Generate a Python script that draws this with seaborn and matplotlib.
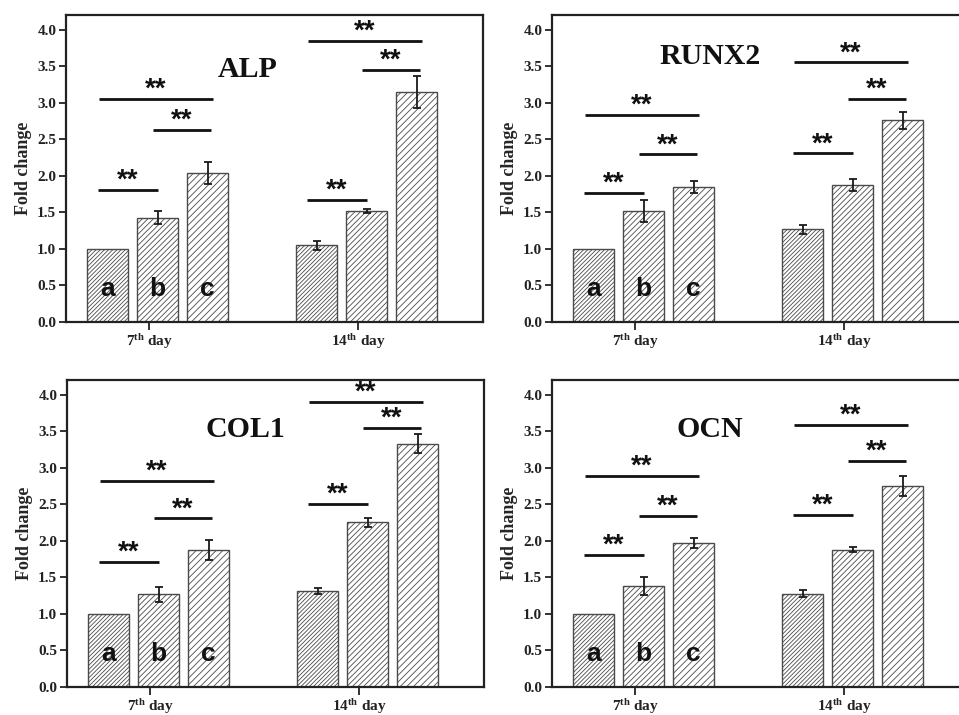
import numpy as np
import pandas as pd
import matplotlib
matplotlib.use("Agg")
import matplotlib.pyplot as plt
import seaborn as sns

# ---------------- data ----------------
days = ["7th", "14th"]
day_labels = [r"$\mathbf{7^{th}}$ day", r"$\mathbf{14^{th}}$ day"]
groups = ["a", "b", "c"]
genes = ["ALP", "RUNX2", "COL1", "OCN"]

# values[gene][group] = [7th, 14th]
alp_vals = {"a": [1.00, 1.05], "b": [1.43, 1.52], "c": [2.04, 3.15]}
alp_errs = {"a": [0.00, 0.06], "b": [0.09, 0.03], "c": [0.15, 0.22]}
runx2_vals = {"a": [1.00, 1.27], "b": [1.52, 1.88], "c": [1.85, 2.76]}
runx2_errs = {"a": [0.00, 0.065], "b": [0.155, 0.085], "c": [0.085, 0.12]}
col1_vals = {"a": [1.00, 1.315], "b": [1.27, 2.255], "c": [1.88, 3.33]}
col1_errs = {"a": [0.00, 0.04], "b": [0.10, 0.06], "c": [0.14, 0.13]}
ocn_vals = {"a": [1.00, 1.28], "b": [1.385, 1.88], "c": [1.975, 2.75]}
ocn_errs = {"a": [0.00, 0.05], "b": [0.125, 0.035], "c": [0.065, 0.135]}

# significance brackets: (day index, group i, group j, line height)
alp_sig = [(0, 0, 1, 1.81), (0, 1, 2, 2.63), (0, 0, 2, 3.06),
           (1, 0, 1, 1.67), (1, 1, 2, 3.45), (1, 0, 2, 3.85)]
runx2_sig = [(0, 0, 1, 1.77), (0, 1, 2, 2.295), (0, 0, 2, 2.84),
             (1, 0, 1, 2.31), (1, 1, 2, 3.055), (1, 0, 2, 3.555)]
col1_sig = [(0, 0, 1, 1.71), (0, 1, 2, 2.31), (0, 0, 2, 2.82),
            (1, 0, 1, 2.51), (1, 1, 2, 3.55), (1, 0, 2, 3.91)]
ocn_sig = [(0, 0, 1, 1.81), (0, 1, 2, 2.34), (0, 0, 2, 2.89),
           (1, 0, 1, 2.355), (1, 1, 2, 3.10), (1, 0, 2, 3.595)]

yticks = [0.0, 0.5, 1.0, 1.5, 2.0, 2.5, 3.0, 3.5, 4.0]

panels = [
    ("ALP", alp_vals, alp_errs, alp_sig),
    ("RUNX2", runx2_vals, runx2_errs, runx2_sig),
    ("COL1", col1_vals, col1_errs, col1_sig),
    ("OCN", ocn_vals, ocn_errs, ocn_sig),
]

# ---------------- layout / style ----------------
W, H = 959, 715
axes_px = {  # left, top, width, height in pixels
    "ALP": (66, 15, 417, 307),
    "RUNX2": (552, 15, 417, 307),
    "COL1": (67, 380, 417, 307),
    "OCN": (552, 380, 417, 307),
}
title_pos = {"ALP": (0.436, 3.35), "RUNX2": (0.378, 3.54),
             "COL1": (0.427, 3.42), "OCN": (0.378, 3.42)}
hatches = ["/" * 8, "/" * 6, "/" * 5]
bracket_ext = {(0, 1): (-0.20, 0.00), (1, 2): (-0.10, 0.07), (0, 2): (-0.17, 0.10)}
XLIM = (-0.438, -0.438 + 417 / 209)
EDGE = "#4a4a4a"

sns.set_style("ticks")
plt.rcParams["font.family"] = ["Liberation Serif", "DejaVu Serif"]
plt.rcParams["font.weight"] = "bold"
plt.rcParams["mathtext.fontset"] = "custom"
plt.rcParams["mathtext.rm"] = "Liberation Serif:bold"
plt.rcParams["mathtext.bf"] = "Liberation Serif:bold"
plt.rcParams["mathtext.it"] = "Liberation Serif:bold:italic"
plt.rcParams["hatch.linewidth"] = 0.6

fig = plt.figure(figsize=(W / 100, H / 100), dpi=100)
fig.patch.set_facecolor("white")

for gene, vals, errs, sig in panels:
    l, t, w, h = axes_px[gene]
    ax = fig.add_axes([l / W, (H - t - h) / H, w / W, h / H])
    rows = []
    for g in groups:
        for di, d in enumerate(days):
            rows.append({"day": d, "group": g, "value": vals[g][di], "err": errs[g][di]})
    df = pd.DataFrame(rows)
    sns.barplot(data=df, x="day", y="value", hue="group", order=days, hue_order=groups,
                palette=["white"] * 3, width=0.718, gap=0.166, errorbar=None,
                edgecolor=EDGE, linewidth=1.0, legend=False, ax=ax)

    centers = {}
    for gi, cont in enumerate(ax.containers[:3]):
        for di, bar in enumerate(cont):
            bar.set_hatch(hatches[gi])
            bar.set_facecolor("white")
            bar.set_edgecolor(EDGE)
            xc = bar.get_x() + bar.get_width() / 2
            centers[(di, gi)] = xc
            e = errs[groups[gi]][di]
            if e > 0:
                ax.errorbar(xc, bar.get_height(), yerr=e, fmt="none", ecolor="#1a1a1a",
                            elinewidth=1.3, capsize=3.2, capthick=1.3, zorder=5)
            if di == 0:
                ax.text(xc, 0.36, groups[gi], ha="center", va="baseline",
                        family="Liberation Sans", fontsize=19, fontweight="bold",
                        color="#111111", zorder=6)

    step = centers[(0, 1)] - centers[(0, 0)]
    for di, i, j, yl in sig:
        e0, e1 = bracket_ext[(i, j)]
        x0 = centers[(di, i)] + e0 * step
        x1 = centers[(di, j)] + e1 * step
        ax.plot([x0, x1], [yl, yl], color="#111111", lw=2.0, solid_capstyle="butt", zorder=6)
        ax.text((x0 + x1) / 2, yl + 0.03, "**", ha="center", va="baseline",
                family="Liberation Sans", fontsize=20, fontweight="bold", color="#111111")

    fx, fy = title_pos[gene]
    ax.text(XLIM[0] + fx * (XLIM[1] - XLIM[0]), fy, gene, ha="center", va="baseline",
            fontsize=21.5, fontweight="bold", color="#111111")

    ax.set_xlim(*XLIM)
    ax.set_ylim(0, 4.205)
    ax.set_yticks(yticks)
    ax.set_yticklabels([f"{v:.1f}" for v in yticks])
    ax.set_xticks([0 - 0.04, 1 - 0.04])
    ax.set_xticklabels(day_labels)
    ax.set_xlabel("")
    ax.set_ylabel("Fold change", fontsize=13, fontweight="bold", labelpad=4)
    ax.tick_params(axis="both", direction="out", length=5, width=1.3, colors="#222222",
                   labelsize=11, pad=2)
    ax.tick_params(axis="x", length=6, pad=1)
    for sp in ax.spines.values():
        sp.set_visible(True)
        sp.set_linewidth(1.6)
        sp.set_color("#222222")
    for lab in ax.get_xticklabels() + ax.get_yticklabels():
        lab.set_fontweight("bold")

fig.savefig("out.png", dpi=100, facecolor="white")
